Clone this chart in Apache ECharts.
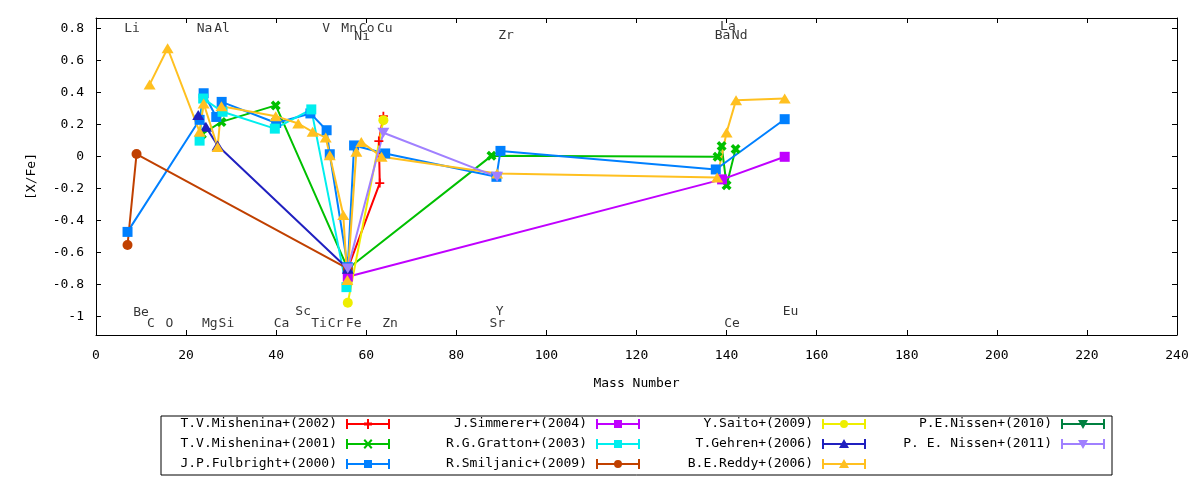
<!DOCTYPE html>
<html><head><meta charset="utf-8">
<script src="https://cdn.jsdelivr.net/npm/echarts@6/dist/echarts.min.js"></script>
<style>html,body{margin:0;padding:0;background:#fff}#c{width:1200px;height:480px}</style>
</head><body><div id="c"></div>
<script>
// ---------------- data ----------------
const seriesNames = [
  'T.V.Mishenina+(2002)', 'T.V.Mishenina+(2001)', 'J.P.Fulbright+(2000)',
  'J.Simmerer+(2004)', 'R.G.Gratton+(2003)', 'R.Smiljanic+(2009)',
  'Y.Saito+(2009)', 'T.Gehren+(2006)', 'B.E.Reddy+(2006)',
  'P.E.Nissen+(2010)', 'P. E. Nissen+(2011)'
];
// [mass number, [X/Fe]]
const mishenina2002 = [[55.9,-0.70],[63.0,-0.165],[62.8,0.097],[63.8,0.253]];
const mishenina2001 = [[23.5,0.14],[27.85,0.217],[39.9,0.32],[55.9,-0.70],[87.8,0.005],[138.0,-0.001],[138.9,0.067],[140.0,-0.178],[142.0,0.047]];
const fulbright2000 = [[7.0,-0.47],[23.0,0.23],[23.9,0.396],[26.7,0.248],[27.9,0.342],[40.0,0.21],[47.6,0.27],[51.2,0.165],[51.9,0.015],[55.9,-0.69],[57.3,0.07],[64.2,0.02],[88.9,-0.126],[89.8,0.036],[137.6,-0.08],[152.9,0.234]];
const simmerer2004 = [[55.9,-0.75],[139.0,-0.142],[152.9,-0.001]];
const gratton2003 = [[23.0,0.10],[23.8,0.363],[28.1,0.28],[39.7,0.175],[47.8,0.295],[55.6,-0.815]];
const smiljanic2009 = [[7.0,-0.552],[9.0,0.016],[55.9,-0.70]];
const saito2009 = [[55.9,-0.913],[63.8,0.228]];
const gehren2006 = [[22.7,0.26],[24.4,0.186],[27.0,0.07],[55.9,-0.70]];
const reddy2006 = [[11.9,0.45],[15.9,0.677],[23.0,0.155],[23.9,0.332],[27.0,0.061],[27.85,0.315],[39.9,0.253],[44.9,0.207],[48.1,0.155],[51.0,0.12],[51.9,0.009],[54.9,-0.365],[55.8,-0.771],[57.8,0.03],[58.9,0.092],[63.4,-0.001],[89.05,-0.105],[137.9,-0.13],[140.0,0.151],[142.1,0.353],[152.9,0.363]];
const nissen2010 = [];
const nissen2011 = [[55.9,-0.698],[63.8,0.149],[89.05,-0.126]];

const xTickValues = [0,20,40,60,80,100,120,140,160,180,200,220,240];
const yTickValues = [-1,-0.8,-0.6,-0.4,-0.2,0,0.2,0.4,0.6,0.8];

// element annotations: text, mass-number anchor, [X/Fe] anchor
const elementText = ['Li','Na','Al','V','Mn','Co','Cu','La','Ni','Zr','Ba','Nd','Be','Sc','Y','Eu','C','O','Mg','Si','Ca','Ti','Cr','Fe','Zn','Sr','Ce'];
const elementMass = [8.0,24.1,28.0,51.1,56.2,60.1,64.1,140.3,59.1,91.05,139.1,142.9,10.0,46.0,89.6,154.2,12.2,16.3,25.25,28.95,41.2,49.5,53.2,57.2,65.3,89.1,141.2];
const elementLevel = [0.80,0.80,0.80,0.80,0.80,0.80,0.80,0.815,0.752,0.755,0.755,0.755,-0.972,-0.969,-0.969,-0.969,-1.04,-1.04,-1.04,-1.04,-1.04,-1.04,-1.04,-1.04,-1.04,-1.04,-1.04];

// ---------------- styles ----------------
const FONT = 'DejaVu Sans Mono';
const allData = [mishenina2002, mishenina2001, fulbright2000, simmerer2004, gratton2003, smiljanic2009, saito2009, gehren2006, reddy2006, nissen2010, nissen2011];
const colors = ['#ff0000','#00c000','#0080ff','#c000ff','#00eeee','#c04000','#eeee00','#2020c0','#ffc020','#008040','#a080ff'];
const markerKind = ['plus','x','square','square','square','circle','circle','tri','tri','down','down'];

const plotSymbols = {
  plus:   {symbol:'path://M4 0H6V10H4Z M0 4H10V6H0Z', size:9, rotate:0},
  x:      {symbol:'path://M0 2.5L2.5 0L10 7.5L7.5 10Z M7.5 0L10 2.5L2.5 10L0 7.5Z', size:10, rotate:0},
  square: {symbol:'rect', size:10, rotate:0},
  circle: {symbol:'circle', size:10, rotate:0},
  tri:    {symbol:'triangle', size:[12,10], rotate:0},
  down:   {symbol:'triangle', size:[12,10], rotate:180}
};
const legBase = 'M0 4H44V6H0Z M0 0H2V10H0Z M42 0H44V10H42Z ';
const legendMarks = {
  plus:   'M21 0H23V10H21Z M18 3.5H26V6.5H18Z',
  x:      'M17.5 1.5L19 0L26.5 8.5L25 10Z M25 0L26.5 1.5L19 10L17.5 8.5Z',
  square: 'M18 1H26V9H18Z',
  circle: 'M18 5A4 4 0 1 1 26 5A4 4 0 1 1 18 5Z',
  tri:    'M22 0L27 9L17 9Z',
  down:   'M17 1L27 1L22 10Z'
};

const series = allData.map((d, i) => {
  const s = plotSymbols[markerKind[i]];
  return {
    name: seriesNames[i], type: 'line', data: d,
    symbol: s.symbol, symbolSize: s.size, symbolRotate: s.rotate,
    showSymbol: true, showAllSymbol: true, symbolKeepAspect: false,
    lineStyle: {color: colors[i], width: 2},
    itemStyle: {color: colors[i], borderWidth: 0},
    emphasis: {disabled: true}, animation: false, clip: true
  };
});
series.push({
  name: 'elements', type: 'scatter', silent: true, animation: false,
  data: elementText.map((t, i) => ({name: t, value: [elementMass[i], elementLevel[i]]})),
  symbol: 'circle', symbolSize: 1, itemStyle: {color: 'rgba(0,0,0,0)'},
  label: {show: true, position: 'inside', formatter: '{b}', fontFamily: FONT, fontSize: 13, color: '#000'},
  z: 1
});

// legend layout (4 columns x 3 rows, gnuplot style: text then sample)
const legendColRight = [390, 640, 866, 1105];
const legendRowY = [424, 444, 464];
const legends = seriesNames.map((n, i) => ({
  data: [{name: n, icon: 'path://' + legBase + legendMarks[markerKind[i]]}],
  orient: 'horizontal', align: 'right', padding: 0, itemGap: 0,
  right: 1200 - legendColRight[Math.floor(i / 3)],
  top: legendRowY[i % 3] - 8,
  itemWidth: 44, itemHeight: 10, selectedMode: false,
  itemStyle: {borderWidth: 0},
  textStyle: {fontFamily: FONT, fontSize: 13, color: '#000', padding: [0, 4, 0, 0], lineHeight: 16}
}));

const axisLineStyle = {show: true, onZero: false, lineStyle: {color: '#000', width: 1}};
const tickStyle = (vals) => ({show: true, inside: true, length: 5, lineStyle: {color: '#000'}, customValues: vals});

const chart = echarts.init(document.getElementById('c'), null, {renderer: 'canvas'});
chart.setOption({
  animation: false,
  backgroundColor: '#fff',
  grid: {left: 96, right: 23, top: 18, bottom: 145},
  xAxis: [
    {
      type: 'value', position: 'bottom', min: 0, max: 240, interval: 20,
      splitLine: {show: false}, axisLine: axisLineStyle, axisTick: tickStyle(xTickValues),
      name: 'Mass Number', nameLocation: 'middle', nameGap: 42,
      nameTextStyle: {fontFamily: FONT, fontSize: 13, color: '#000'},
      axisLabel: {fontFamily: FONT, fontSize: 13, color: '#000', margin: 14, customValues: xTickValues}
    },
    {
      type: 'value', position: 'top', min: 0, max: 240, interval: 20,
      splitLine: {show: false}, axisLine: axisLineStyle, axisTick: tickStyle(xTickValues),
      axisLabel: {show: false}
    }
  ],
  yAxis: [
    {
      type: 'value', position: 'left', min: -1.114, max: 0.866,
      splitLine: {show: false}, axisLine: axisLineStyle, axisTick: tickStyle(yTickValues),
      name: '[X/Fe]', nameLocation: 'middle', nameGap: 58, nameRotate: 90,
      nameTextStyle: {fontFamily: FONT, fontSize: 13, color: '#000'},
      axisLabel: {fontFamily: FONT, fontSize: 13, color: '#000', margin: 12, customValues: yTickValues}
    },
    {
      type: 'value', position: 'right', min: -1.114, max: 0.866,
      splitLine: {show: false}, axisLine: axisLineStyle, axisTick: tickStyle(yTickValues),
      axisLabel: {show: false, customValues: yTickValues}
    }
  ],
  legend: legends,
  series: series,
  graphic: [{
    type: 'rect', shape: {x: 161, y: 416, width: 951, height: 59},
    style: {fill: 'none', stroke: '#000', lineWidth: 1}, silent: true
  }]
});
</script>
</body></html>
